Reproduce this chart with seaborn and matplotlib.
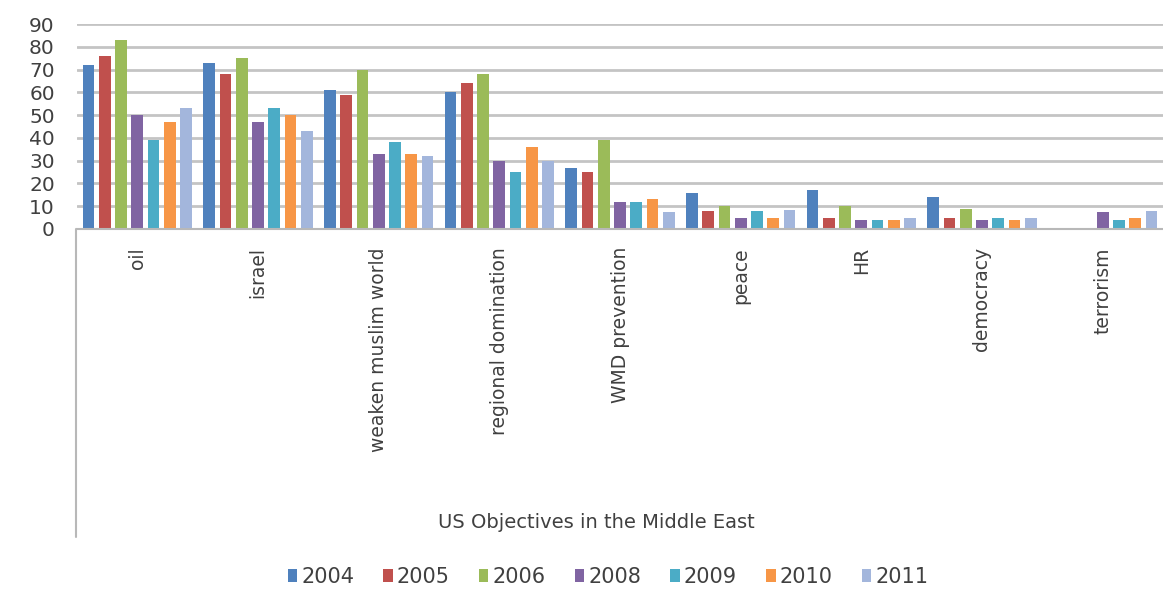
import numpy as np
import pandas as pd
import matplotlib
matplotlib.use("Agg")
import matplotlib.pyplot as plt
import seaborn as sns
from matplotlib.lines import Line2D

categories = ["oil", "israel", "weaken muslim world", "regional domination",
              "WMD prevention", "peace", "HR", "democracy", "terrorism"]
years = ["2004", "2005", "2006", "2008", "2009", "2010", "2011"]

v2004 = [72, 73, 61, 60, 27, 16, 17, 14, 0]
v2005 = [76, 68, 59, 64, 25, 8, 5, 5, 0]
v2006 = [83, 75, 70, 68, 39, 10, 10, 9, 0]
v2008 = [50, 47, 33, 30, 12, 5, 4, 4, 7.5]
v2009 = [39, 53, 38, 25, 12, 8, 4, 5, 4]
v2010 = [47, 50, 33, 36, 13, 5, 4, 4, 5]
v2011 = [53, 43, 32, 30, 7.5, 8.5, 5, 5, 8]

colors = ["#4F81BD", "#C0504D", "#9BBB59", "#8064A2", "#4BACC6", "#F79646", "#A3B6DC"]

series = [v2004, v2005, v2006, v2008, v2009, v2010, v2011]
rows = []
for y, vals in zip(years, series):
    for c, v in zip(categories, vals):
        rows.append({"category": c, "year": y, "value": v})
df = pd.DataFrame(rows)

sns.set_theme(style="white")
plt.rcParams["font.family"] = ["DejaVu Sans"]
text_color = "#404040"

fig = plt.figure(figsize=(11.63, 5.91), dpi=100)
ax = fig.add_axes([77 / 1163, 1 - 229 / 591, 1 - 77 / 1163, (229 - 24) / 591])

sns.barplot(data=df, x="category", y="value", hue="year", order=categories,
            hue_order=years, palette=dict(zip(years, colors)), width=0.945,
            gap=0.28, saturation=1, ax=ax, legend=True, linewidth=0)

ax.set_ylim(0, 90)
ax.set_xlim(-0.5, len(categories) - 0.5)
ax.set_yticks(np.arange(0, 91, 10))
ax.yaxis.grid(True, color="#c4c4c4", linewidth=2)
ax.set_axisbelow(True)
for s in ["top", "right", "left"]:
    ax.spines[s].set_visible(False)
ax.spines["bottom"].set_color("#b8b8b8")
ax.spines["bottom"].set_linewidth(1.5)
ax.set_xlabel("")
ax.set_ylabel("")
ax.tick_params(axis="y", length=0, pad=16, labelsize=14.5, labelcolor=text_color)
ax.tick_params(axis="x", length=0, pad=13, labelsize=13.5, labelcolor=text_color)
for lab in ax.get_xticklabels():
    lab.set_rotation(90)
    lab.set_va("top")
    lab.set_ha("center")

# category frame line
fig.add_artist(Line2D([76 / 1163, 76 / 1163], [1 - 229 / 591, 1 - 537 / 591],
                      color="#b8b8b8", linewidth=1.5))

fig.text(596 / 1163, 1 - 522 / 591, "US Objectives in the Middle East",
         ha="center", va="center", fontsize=14, color=text_color)

handles, labels = ax.get_legend_handles_labels()
ax.get_legend().remove()
fig.legend(handles, labels, loc="center", ncol=7,
           bbox_to_anchor=(608 / 1163, 1 - 577 / 591), frameon=False,
           fontsize=15, handlelength=0.45, handleheight=0.6,
           handletextpad=0.2, columnspacing=1.4, labelcolor=text_color)

fig.savefig("out.png", dpi=100)
